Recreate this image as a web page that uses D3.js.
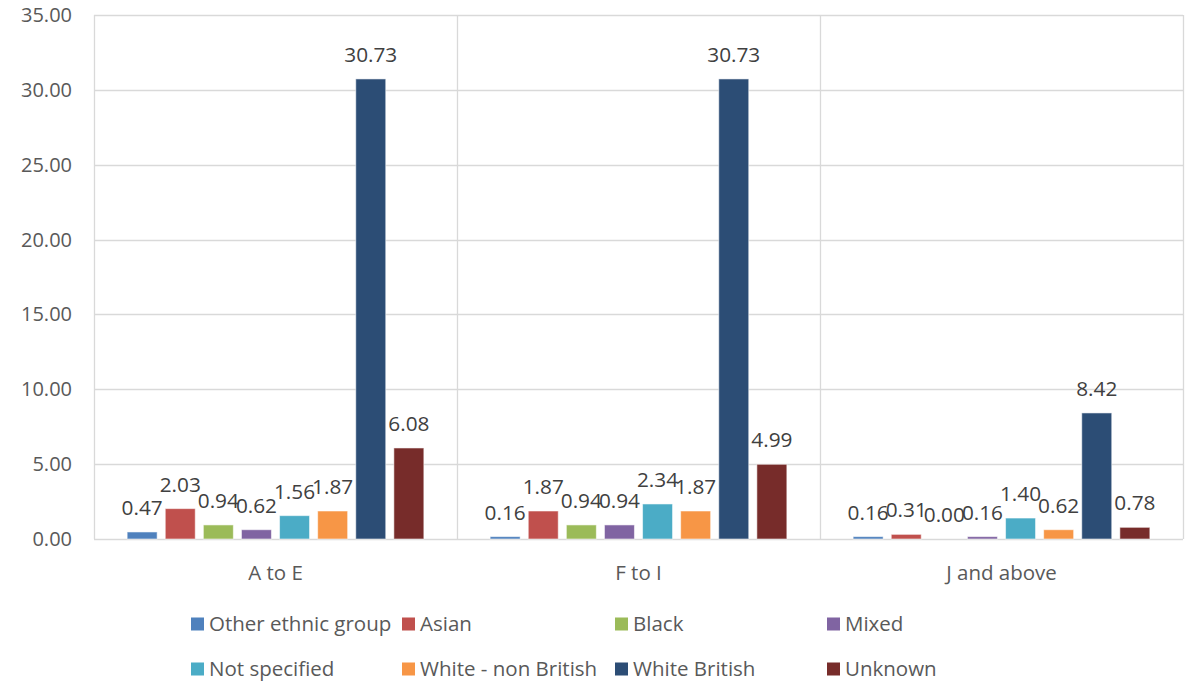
<!DOCTYPE html>
<html>
<head>
<meta charset="utf-8">
<script src="https://cdn.jsdelivr.net/npm/d3@7"></script>
<style>
  html, body { margin: 0; padding: 0; background: #fff; }
  svg { display: block; font-family: "Open Sans", sans-serif; }
</style>
</head>
<body>
<svg id="chart" width="1191" height="681"></svg>
<script>
const categories = ["A to E", "F to I", "J and above"];
const seriesNames = ["Other ethnic group", "Asian", "Black", "Mixed", "Not specified", "White - non British", "White British", "Unknown"];
const seriesColors = ["#4F81BD", "#C0504D", "#9BBB59", "#8064A2", "#4BACC6", "#F79646", "#2C4D75", "#772C2A"];
const otherEthnic = [0.47, 0.16, 0.16];
const asian = [2.03, 1.87, 0.31];
const black = [0.94, 0.94, 0.00];
const mixed = [0.62, 0.94, 0.16];
const notSpecified = [1.56, 2.34, 1.40];
const whiteNonBritish = [1.87, 1.87, 0.62];
const whiteBritish = [30.73, 30.73, 8.42];
const unknown = [6.08, 4.99, 0.78];
const yTicks = [0, 5, 10, 15, 20, 25, 30, 35];

const seriesValues = [otherEthnic, asian, black, mixed, notSpecified, whiteNonBritish, whiteBritish, unknown];

const svg = d3.select("#chart");
const pLeft = 94, pRight = 1183, pTop = 15, pBottom = 539;

const y = d3.scaleLinear().domain([0, 35]).range([pBottom, pTop]);
const x0 = d3.scaleBand().domain(categories).range([pLeft, pRight]).padding(0);
const x1 = d3.scaleBand().domain(seriesNames).range([0, x0.bandwidth()])
  .paddingInner(0.213).paddingOuter(0.87);

const grid = "#D9D9D9";

// horizontal gridlines
svg.append("g").selectAll("line").data(yTicks).join("line")
  .attr("x1", pLeft).attr("x2", pRight)
  .attr("y1", d => Math.round(y(d)) + 0.5).attr("y2", d => Math.round(y(d)) + 0.5)
  .attr("stroke", grid).attr("stroke-width", 1.3);

// vertical category dividers
const dividers = categories.map(c => x0(c)).concat([pRight]);
svg.append("g").selectAll("line").data(dividers).join("line")
  .attr("x1", d => Math.round(d) + 0.5).attr("x2", d => Math.round(d) + 0.5)
  .attr("y1", pTop).attr("y2", pBottom)
  .attr("stroke", grid).attr("stroke-width", 1.3);

// y tick labels
svg.append("g").selectAll("text").data(yTicks).join("text")
  .attr("x", 72).attr("y", d => y(d))
  .attr("dy", "0.35em")
  .attr("text-anchor", "end")
  .attr("font-size", 20).attr("fill", "#595959")
  .text(d => d3.format(".2f")(d));

// category labels
svg.append("g").selectAll("text").data(categories).join("text")
  .attr("x", d => x0(d) + x0.bandwidth() / 2).attr("y", 580)
  .attr("text-anchor", "middle")
  .attr("font-size", 20.5).attr("fill", "#595959")
  .text(d => d);

// bars
const rows = [];
categories.forEach((c, ci) => {
  seriesNames.forEach((s, si) => {
    rows.push({ cat: c, series: s, color: seriesColors[si], value: seriesValues[si][ci] });
  });
});

const gBars = svg.append("g");
gBars.selectAll("rect").data(rows).join("rect")
  .attr("x", d => x0(d.cat) + x1(d.series))
  .attr("width", x1.bandwidth())
  .attr("y", d => y(d.value))
  .attr("height", d => y(0) - y(d.value))
  .attr("fill", d => d.color)
  .attr("stroke", d => d.value > 0 ? "rgba(255,255,255,0.55)" : "none")
  .attr("stroke-width", 1);

gBars.selectAll("text").data(rows).join("text")
  .attr("x", d => x0(d.cat) + x1(d.series) + x1.bandwidth() / 2)
  .attr("y", d => y(d.value) - 17)
  .attr("text-anchor", "middle")
  .attr("font-size", 20.8).attr("fill", "#404040")
  .text(d => d3.format(".2f")(d.value));

// legend
const legendCols = [191, 402, 615, 827];
const legendRows = [624, 669];
const lg = svg.append("g");
const items = lg.selectAll("g").data(seriesNames).join("g")
  .attr("transform", (d, i) => `translate(${legendCols[i % 4]},${legendRows[Math.floor(i / 4)]})`);
items.append("rect")
  .attr("x", 0).attr("y", -6.5).attr("width", 13).attr("height", 13)
  .attr("fill", (d, i) => seriesColors[i]);
items.append("text")
  .attr("x", 18).attr("y", 0).attr("dy", "0.35em")
  .attr("font-size", 20.5).attr("fill", "#595959")
  .text(d => d);
</script>
</body>
</html>
